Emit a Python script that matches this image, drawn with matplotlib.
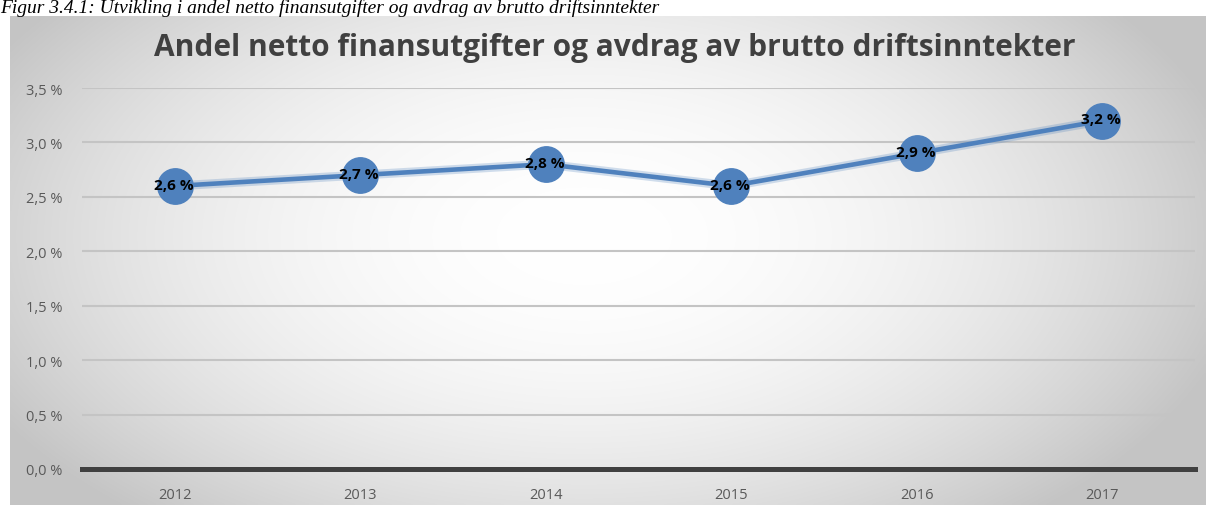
import numpy as np
import matplotlib
matplotlib.use("Agg")
import matplotlib.pyplot as plt

years = ["2012", "2013", "2014", "2015", "2016", "2017"]
values = [2.6, 2.7, 2.8, 2.6, 2.9, 3.2]
yticks = [0.0, 0.5, 1.0, 1.5, 2.0, 2.5, 3.0, 3.5]
title = "Andel netto finansutgifter og avdrag av brutto driftsinntekter"
caption = "Figur 3.4.1: Utvikling i andel netto finansutgifter og avdrag av brutto driftsinntekter"

W, H = 1206, 506
fig = plt.figure(figsize=(W / 100, H / 100), dpi=100)
fig.patch.set_facecolor("white")

# background gradient panel
bx0, by_top = 10, 17
bg = fig.add_axes([bx0 / W, 0, (W - bx0) / W, (H - by_top) / H])
bg.set_axis_off()
nx, ny = 400, 200
xx, yy = np.meshgrid(np.linspace(0, 1, nx), np.linspace(0, 1, ny))
cx, cy = 0.48, 0.55
r2 = ((xx - cx) / 0.55) ** 2 + ((yy - cy) / 0.75) ** 2
v = np.clip(1.0 - 0.22 * r2, 0.77, 1.0)
img = np.dstack([v, v, v])
bg.imshow(img, aspect="auto", extent=[0, 1, 0, 1], origin="lower", interpolation="bilinear")

# caption
fig.text(0.0, 1 - 13 / H, caption, fontsize=14, style="italic",
         family="Liberation Serif", color="black", ha="left", va="baseline")

# main axes
x0, x1 = 82, 1195
y0, y1 = 470, 89
ax = fig.add_axes([x0 / W, (H - y0) / H, (x1 - x0) / W, (y0 - y1) / H])
ax.patch.set_alpha(0)
xs = np.arange(len(years))
ax.set_xlim(-0.5, len(years) - 0.5)
ax.set_ylim(0, 3.5)
ax.set_yticks(yticks)
ax.set_yticklabels([f"{t:.1f} %".replace(".", ",") for t in yticks])
ax.set_xticks(xs)
ax.set_xticklabels(years)
for s in ax.spines.values():
    s.set_visible(False)
ax.tick_params(length=0, labelsize=10.5, labelcolor="#595959")
ax.tick_params(axis="y", pad=14)
ax.tick_params(axis="x", pad=13)
for lab in ax.get_xticklabels() + ax.get_yticklabels():
    lab.set_family("Open Sans")
ax.grid(axis="y", color="#c4c4c4", linewidth=1.5)
ax.set_axisbelow(True)
ax.axhline(0, color="#404040", linewidth=3.6, zorder=2, clip_on=False)

ax.plot(xs, values, color="#4a7ebb", linewidth=6.5, alpha=0.25, zorder=3, solid_capstyle="round")
ax.plot(xs, values, color="#4f81bd", linewidth=3.3, zorder=4, solid_capstyle="round")
ax.plot(xs, values, linestyle="none", marker="o", markersize=25.5,
        markerfacecolor="#4f81bd", markeredgecolor="#4f81bd", zorder=5, clip_on=False)
for x, val in zip(xs, values):
    ax.annotate(f"{val:.1f} %".replace(".", ","), (x, val), xytext=(-1, 1),
                textcoords="offset points", ha="center", va="center",
                fontsize=11, fontweight="bold", color="black", family="Open Sans", zorder=6)

fig.text(615 / W, 1 - 48 / H, title, fontsize=21.5, fontweight="bold",
         family="Open Sans", color="#404040", ha="center", va="center")

fig.savefig("out.png", dpi=100)
